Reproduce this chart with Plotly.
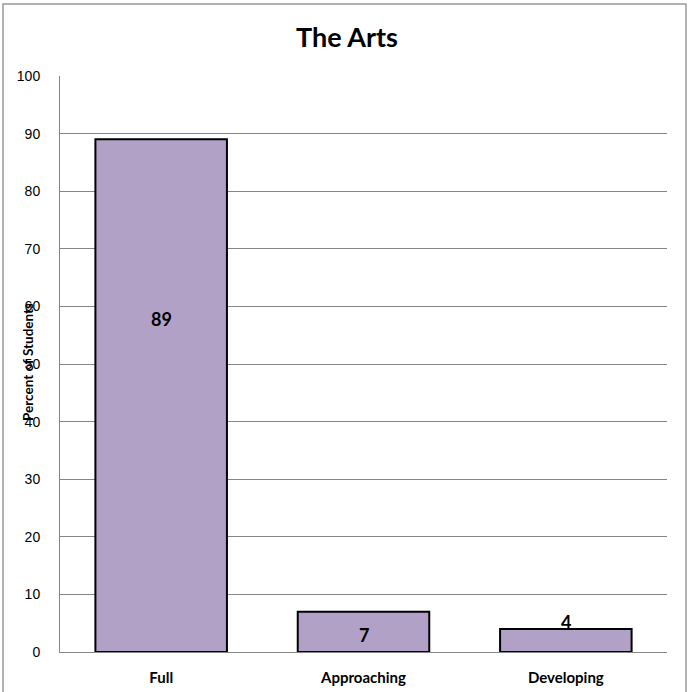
import plotly.graph_objects as go

categories = ["Full", "Approaching", "Developing"]
values = [89, 7, 4]
y_ticks = [0, 10, 20, 30, 40, 50, 60, 70, 80, 90, 100]
title_text = "The Arts"
y_title = "Percent of Students"

W, H = 688, 692
L, R, T, B = 60, 21, 76, 40
pw = W - L - R
ph = H - T - B

FONT = "Lato, Open Sans, sans-serif"

fig = go.Figure()
fig.add_trace(go.Bar(
    x=categories, y=values, width=0.65,
    marker=dict(color="#B2A1C7", line=dict(color="#000000", width=2)),
    hoverinfo="x+y",
))

# data labels
label_shift = [77, -3, 7]
label_mode = ["mid", "mid", "top"]
for c, v, s, m in zip(categories, values, label_shift, label_mode):
    yy = v / 2 if m == "mid" else v
    fig.add_annotation(x=c, y=yy, text=f"<b>{v}</b>", showarrow=False,
                       yshift=s, yanchor="middle",
                       font=dict(family=FONT, size=18, color="#000"))

fig.add_annotation(xref="paper", yref="paper", x=(28 - L) / pw, y=(H - B - 362) / ph,
                   text=f"<b>{y_title}</b>", textangle=-90, showarrow=False,
                   xanchor="center", yanchor="middle",
                   font=dict(family=FONT, size=13.5, color="#000"))

# outer frame
fig.add_shape(type="rect", xref="paper", yref="paper",
              x0=(3 - L) / pw, x1=(686 - L) / pw,
              y0=(H - B - 700) / ph, y1=(H - B - 4) / ph,
              line=dict(color="#999999", width=1.5), fillcolor="rgba(0,0,0,0)", layer="below")

fig.update_layout(
    template="none",
    width=W, height=H, autosize=False,
    margin=dict(l=L, r=R, t=T, b=B, pad=0),
    paper_bgcolor="white", plot_bgcolor="white",
    showlegend=False, bargap=0.35,
    title=dict(text=f"<b>{title_text}</b>", x=347 / W, xanchor="center",
               y=1 - 38 / H, yanchor="middle",
               font=dict(family=FONT, size=27, color="#000")),
    xaxis=dict(
        type="category", range=[-0.5, 2.5], automargin=False,
        showgrid=False, showline=True, linecolor="#868686", linewidth=1,
        ticks="", ticklabelstandoff=12,
        tickfont=dict(family=FONT, size=15, color="#000"),
        tickprefix="<b>", ticksuffix="</b>",
        fixedrange=True,
    ),
    yaxis=dict(
        range=[0, 100], tickvals=y_ticks, automargin=False,
        showgrid=True, gridcolor="#868686", gridwidth=1,
        showline=True, linecolor="#868686", linewidth=1,
        ticks="", ticklabelstandoff=16,
        tickfont=dict(family="Liberation Sans, Arial, sans-serif", size=14, color="#000"),
        zeroline=False, fixedrange=True,
    ),
)

fig.write_html("out.html", config={"displayModeBar": False},
               post_script="document.body.style.margin='0';")
